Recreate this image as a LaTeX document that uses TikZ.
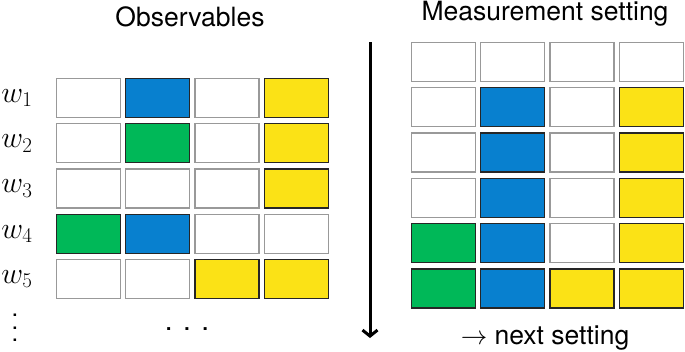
\RequirePackage{fix-cm}
\documentclass[tikz,border=0pt]{standalone}
\usepackage{fontspec}
\setmainfont{TeX Gyre Heros}
\usetikzlibrary{arrows.meta}
\definecolor{cblue}{HTML}{0880CF}
\definecolor{cgreen}{HTML}{00B858}
\definecolor{cyellow}{HTML}{FBE216}
\tikzset{
  cell/.style={line width=1.3pt, minimum width=64pt, minimum height=39pt, inner sep=0pt},
  wcell/.style={cell, draw=black!40, fill=white},
  bcell/.style={cell, draw=black!85, fill=cblue},
  gcell/.style={cell, draw=black!85, fill=cgreen},
  ycell/.style={cell, draw=black!85, fill=cyellow},
  title/.style={font=\fontsize{26.5}{30}\selectfont},
  wlabel/.style={font=\fontsize{30}{32}\selectfont}
}
\begin{document}
\begin{tikzpicture}[x=1pt,y=-1pt]
\useasboundingbox (0,0) rectangle (685,351);

% observables
\node[title] (obs) at (190,17) {Observables};
\foreach \row [count=\r] in {{w,b,w,y},{w,g,w,y},{w,w,w,y},{g,b,w,w},{w,w,y,y}}
  \foreach \c [count=\k] in \row
    \node[\c cell] (L-\r-\k) at ({88.5+69.3*(\k-1)},{98+45.3*(\r-1)}) {};
\foreach \r in {1,...,5}
  \node[wlabel] (w\r) at (17,{98+45.3*(\r-1)}) {$w_\r$};
\node[align=center, inner sep=0pt, font=\fontsize{24}{12.5}\selectfont] (vdots) at (15,328) {.\\.\\.};
\node[font=\fontsize{28}{30}\selectfont] (hdots) at (187,329) {. . .};

% arrow
\coordinate (top) at (370,42);
\coordinate (bottom) at (370,338);
\draw[line width=3pt, -{Straight Barb[length=6pt,width=15pt]}] (top) -- (bottom);

% measurement setting
\node[title] (meas) at (545,14) {Measurement setting};
\foreach \row [count=\r] in {{w,w,w,w},{w,b,w,y},{w,b,w,y},{w,b,w,y},{g,b,w,y},{g,b,y,y}}
  \foreach \c [count=\k] in \row
    \node[\c cell] (R-\r-\k) at ({443.5+69.3*(\k-1)},{62+45.3*(\r-1)}) {};
\node[title] (next) at (545,338) {$\rightarrow$ next setting};
\end{tikzpicture}
\end{document}
